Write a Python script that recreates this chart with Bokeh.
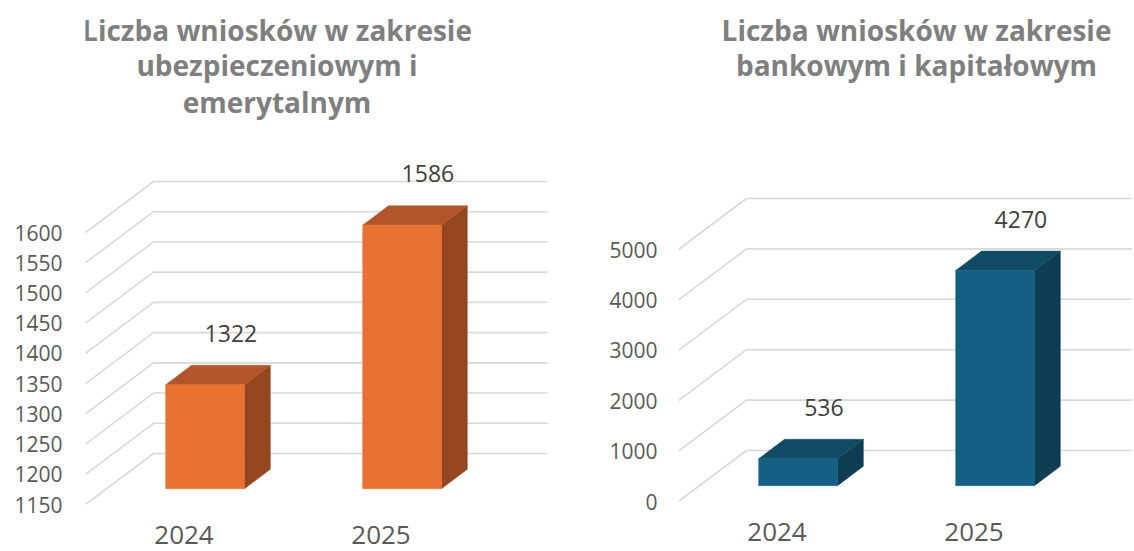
from bokeh.plotting import figure
from bokeh.layouts import row
from bokeh.models import Range1d, FixedTicker, ColumnDataSource
from bokeh.core.properties import value
from bokeh.embed import file_html
from bokeh.resources import INLINE

# ---------------- data ----------------
categories = ["2024", "2025"]

left_title = ["Liczba wniosków w zakresie", "ubezpieczeniowym i", "emerytalnym"]
left_values = [1322, 1586]
left_ticks = [1150, 1200, 1250, 1300, 1350, 1400, 1450, 1500, 1550, 1600]

right_title = ["Liczba wniosków w zakresie", "bankowym i kapitałowym"]
right_values = [536, 4270]
right_ticks = [0, 1000, 2000, 3000, 4000, 5000]

# ---------------- style ----------------
ORANGE = ("#E97132", "#B2562A", "#93461F")   # front, top, side
BLUE = ("#156082", "#114A64", "#0D3D52")
GRID = "#D9D9D9"
AXIS_TXT = "#595959"
LABEL_TXT = "#404040"
TITLE_TXT = "#7F7F7F"
FONT = "Open Sans"

DEPTH_X = 68.0   # px of 3D depth (horizontal)
DEPTH_Y = 51.0   # px of 3D depth (vertical)
BAR_D0 = 0.31    # bar front depth fraction
BAR_DD = 0.38    # bar depth fraction
BAR_HALF = 0.2   # half bar width in category units
UNIT_PX = 197.0  # px per category
TOTAL_H = 551


def make_chart(values, ticks, title_lines, colors, cfg):
    fw, fh = cfg["frame_w"], cfg["frame_h"]
    k = cfg["k"]
    base = ticks[0]
    x0r = -0.5
    x_end = x0r + fw / UNIT_PX
    y_end = base + fh / k
    DX = DEPTH_X / UNIT_PX
    DY = DEPTH_Y / k

    p = figure(frame_width=fw, frame_height=fh,
               min_border_left=cfg["bl"], min_border_right=cfg["br"],
               min_border_top=0, min_border_bottom=TOTAL_H - fh,
               x_range=Range1d(x0r, x_end), y_range=Range1d(base, y_end),
               output_backend="svg", toolbar_location=None, title=None)
    p.outline_line_color = None
    p.background_fill_color = "white"
    p.border_fill_color = "white"
    p.xgrid.visible = False
    p.ygrid.visible = False

    # 3D gridlines: front-floor diagonal + back wall line for each tick
    n = len(categories)
    back_right = x0r + n + DX
    xs = [[x0r, x0r + DX, back_right] for t in ticks]
    ys = [[t, t + DY, t + DY] for t in ticks]
    p.multi_line(xs=xs, ys=ys, line_color=GRID, line_width=1.6)

    # bars
    front_l, front_r, front_b, front_t = [], [], [], []
    top_xs, top_ys, side_xs, side_ys = [], [], [], []
    for i, v in enumerate(values):
        xl = i - BAR_HALF + BAR_D0 * DX
        xr = i + BAR_HALF + BAR_D0 * DX
        yb = base + BAR_D0 * DY
        yt = v + BAR_D0 * DY
        ddx, ddy = BAR_DD * DX, BAR_DD * DY
        front_l.append(xl); front_r.append(xr)
        front_b.append(yb); front_t.append(yt)
        top_xs.append([xl, xr, xr + ddx, xl + ddx])
        top_ys.append([yt, yt, yt + ddy, yt + ddy])
        side_xs.append([xr, xr, xr + ddx, xr + ddx])
        side_ys.append([yb, yt, yt + ddy, yb + ddy])
    p.patches(xs=side_xs, ys=side_ys, fill_color=colors[2], line_color=colors[2], line_width=0.5)
    p.patches(xs=top_xs, ys=top_ys, fill_color=colors[1], line_color=colors[1], line_width=0.5)
    p.quad(left=front_l, right=front_r, bottom=front_b, top=front_t,
           fill_color=colors[0], line_color=colors[0], line_width=0.5)

    # data labels
    lab = ColumnDataSource(dict(
        x=[i + (BAR_D0 + BAR_DD) * DX for i in range(len(values))],
        y=[v + DY + 16 / k for v in values],
        t=[str(v) for v in values]))
    p.text(x="x", y="y", text="t", source=lab, text_align="center",
           text_baseline="middle", text_font=value(FONT),
           text_font_size="23px", text_color=LABEL_TXT)

    # title
    tsrc = ColumnDataSource(dict(
        x=[x0r + cfg["title_cx"] / UNIT_PX] * len(title_lines),
        y=[y_end - m / k for m in cfg["title_mid"][:len(title_lines)]],
        t=title_lines))
    p.text(x="x", y="y", text="t", source=tsrc, text_align="center",
           text_baseline="middle", text_font=value(FONT),
           text_font_style="bold", text_font_size="28px", text_color=TITLE_TXT)

    # axes
    p.yaxis.ticker = FixedTicker(ticks=ticks)
    p.yaxis.axis_line_color = None
    p.yaxis.major_tick_line_color = None
    p.yaxis.minor_tick_line_color = None
    p.yaxis.major_tick_out = 0
    p.yaxis.major_label_standoff = cfg["ystand"]
    p.yaxis.major_label_text_font = FONT
    p.yaxis.major_label_text_font_size = "21px"
    p.yaxis.major_label_text_color = AXIS_TXT

    p.xaxis.ticker = FixedTicker(ticks=list(range(n)))
    p.xaxis.major_label_overrides = {i: c for i, c in enumerate(categories)}
    p.xaxis.axis_line_color = None
    p.xaxis.major_tick_line_color = None
    p.xaxis.minor_tick_line_color = None
    p.xaxis.major_tick_out = 0
    p.xaxis.major_label_standoff = cfg["xstand"]
    p.xaxis.major_label_text_font = FONT
    p.xaxis.major_label_text_font_size = "26px"
    p.xaxis.major_label_text_color = AXIS_TXT
    return p


left_cfg = dict(frame_w=463, frame_h=504, bl=85, br=27, k=272 / 450,
                title_cx=191.5, title_mid=[29.0, 64.4, 101.7], ystand=23, xstand=21)
right_cfg = dict(frame_w=454, frame_h=501, bl=103, br=0, k=252 / 5000,
                 title_cx=238.0, title_mid=[29.0, 64.4], ystand=21, xstand=21)

p1 = make_chart(left_values, left_ticks, left_title, ORANGE, left_cfg)
p2 = make_chart(right_values, right_ticks, right_title, BLUE, right_cfg)

layout = row(p1, p2, spacing=0)
open("out.html", "w").write(file_html(layout, INLINE))
